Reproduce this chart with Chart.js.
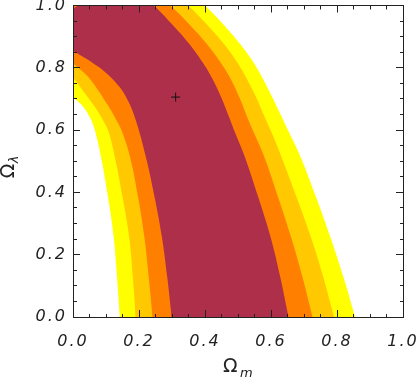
<!DOCTYPE html>
<html>
<head>
<meta charset="utf-8">
<script src="https://cdn.jsdelivr.net/npm/chart.js@4.4.1/dist/chart.umd.min.js"></script>
<style>
  html, body { margin: 0; padding: 0; background: #fff; }
  #wrap { width: 418px; height: 378px; }
</style>
</head>
<body>
<div id="wrap"><canvas id="contours"></canvas></div>
<script>
// contour edges, as [Omega_m, Omega_lambda] pairs (sorted by Omega_m)
// "outer" = upper/right edge of a band, "inner" = lower/left edge
const yellowOuter = [[0, 1.3], [0.2, 1.2], [0.40, 1.0], [0.455, 0.94], [0.506, 0.877], [0.545, 0.82], [0.575, 0.766], [0.605, 0.703], [0.634, 0.639], [0.655, 0.592], [0.69, 0.513], [0.736, 0.386], [0.779, 0.259], [0.818, 0.133], [0.855, 0.0]];
const goldOuter = [[0, 1.25], [0.18, 1.16], [0.349, 1.0], [0.405, 0.94], [0.457, 0.877], [0.496, 0.82], [0.526, 0.766], [0.556, 0.703], [0.582, 0.639], [0.602, 0.592], [0.632, 0.513], [0.677, 0.386], [0.72, 0.259], [0.757, 0.133], [0.791, 0.0]];
const orangeOuter = [[0, 1.2], [0.15, 1.12], [0.294, 1.0], [0.352, 0.94], [0.405, 0.877], [0.445, 0.82], [0.477, 0.766], [0.505, 0.703], [0.529, 0.639], [0.548, 0.592], [0.58, 0.513], [0.621, 0.386], [0.66, 0.259], [0.694, 0.133], [0.726, 0.0]];
const maroonOuter = [[0, 0.99], [0.03, 1.008], [0.08, 1.03], [0.14, 1.04], [0.2, 1.025], [0.243, 1.0], [0.30, 0.94], [0.352, 0.877], [0.391, 0.82], [0.422, 0.766], [0.45, 0.703], [0.474, 0.639], [0.491, 0.592], [0.521, 0.513], [0.561, 0.386], [0.598, 0.259], [0.627, 0.133], [0.653, 0.0]];

const maroonInner = [[0, 0.855], [0.077, 0.803], [0.132, 0.75], [0.16, 0.708], [0.188, 0.639], [0.221, 0.513], [0.247, 0.386], [0.269, 0.259], [0.285, 0.133], [0.299, 0.0]];
const orangeInner = [[0, 0.815], [0.036, 0.782], [0.062, 0.75], [0.105, 0.681], [0.128, 0.639], [0.148, 0.597], [0.173, 0.513], [0.197, 0.386], [0.216, 0.259], [0.229, 0.133], [0.241, 0.0]];
const goldInner = [[0, 0.769], [0.062, 0.681], [0.087, 0.639], [0.107, 0.597], [0.127, 0.513], [0.15, 0.386], [0.17, 0.259], [0.181, 0.133], [0.19, 0.0]];
const yellowInner = [[0, 0.705], [0.026, 0.681], [0.052, 0.639], [0.067, 0.597], [0.085, 0.513], [0.106, 0.386], [0.123, 0.259], [0.133, 0.133], [0.142, 0.0]];

const bestFit = [[0.311, 0.706]];

const tickLabels = ["0.0", "0.2", "0.4", "0.6", "0.8", "1.0"];

const colors = {
  yellow: "#ffff00",
  gold: "#ffc800",
  orange: "#ff7f00",
  maroon: "#ad2f4a",
  white: "#ffffff",
  ink: "#222222"
};

const toPoints = (pairs) => pairs.map(([x, y]) => ({ x, y }));

// each edge is filled down to the bottom of the axis; painted outer to inner
function edge(pairs, color, order) {
  return {
    data: toPoints(pairs),
    backgroundColor: color,
    borderColor: "rgba(0,0,0,0)",
    borderWidth: 0,
    pointRadius: 0,
    fill: "start",
    tension: 0.4,
    order
  };
}

const isMajor = (tick) => !tick || Math.round(tick.value * 20) % 4 === 0;

function tickLabel(value) {
  const k = Math.round(value * 20);
  return k % 4 === 0 ? tickLabels[k / 4] : "";
}

// ticks point into the plot; minor ones are cut short with a dash
function edgeGrid(startsInside) {
  return {
    display: true,
    drawOnChartArea: false,
    drawTicks: true,
    tickLength: -7,
    tickColor: colors.ink,
    tickWidth: 1,
    z: 1,
    tickBorderDash: (ctx) => (isMajor(ctx.tick) ? [] : startsInside ? [4, 3] : [4, 10]),
    tickBorderDashOffset: (ctx) => (isMajor(ctx.tick) || !startsInside ? 0 : 4)
  };
}

// pin the plot box; no extra room for overhanging labels
function pinSize(prop, size) {
  return (scale) => {
    scale[prop] = size;
    scale.paddingLeft = 0;
    scale.paddingRight = 0;
    scale.paddingTop = 0;
    scale.paddingBottom = 0;
  };
}

const border = { display: true, color: colors.ink, width: 1, z: 1 };
const labelFont = { family: "DejaVu Sans", style: "italic", size: 16 };

const spacedLabels = {
  id: "spacedLabels",
  beforeDraw(chart) {
    chart.ctx.letterSpacing = "2px";
  }
};

const axisTitles = {
  id: "axisTitles",
  afterDraw(chart) {
    const { ctx, chartArea } = chart;
    ctx.save();
    ctx.letterSpacing = "0px";
    ctx.fillStyle = colors.ink;
    ctx.textAlign = "left";
    ctx.textBaseline = "alphabetic";

    const cx = (chartArea.left + chartArea.right) / 2;
    ctx.font = "19px 'DejaVu Sans'";
    ctx.fillText("Ω", cx - 15, chartArea.bottom + 55);
    ctx.font = "italic 13px 'DejaVu Sans'";
    ctx.fillText("m", cx + 2, chartArea.bottom + 60);

    const cy = (chartArea.top + chartArea.bottom) / 2;
    ctx.translate(14, cy + 17);
    ctx.rotate(-Math.PI / 2);
    ctx.font = "19px 'DejaVu Sans'";
    ctx.fillText("Ω", 0, 0);
    ctx.font = "italic 13px 'DejaVu Sans'";
    ctx.fillText("λ", 15, 4);
    ctx.restore();
  }
};

new Chart(document.getElementById("contours"), {
  type: "line",
  data: {
    datasets: [
      edge(yellowOuter, colors.yellow, 8),
      edge(goldOuter, colors.gold, 7),
      edge(orangeOuter, colors.orange, 6),
      edge(maroonOuter, colors.maroon, 5),
      edge(maroonInner, colors.orange, 4),
      edge(orangeInner, colors.gold, 3),
      edge(goldInner, colors.yellow, 2),
      edge(yellowInner, colors.white, 1),
      {
        data: toPoints(bestFit),
        showLine: false,
        fill: false,
        pointStyle: "cross",
        pointRadius: 4.5,
        borderColor: "#111",
        borderWidth: 1,
        order: 0
      }
    ]
  },
  options: {
    responsive: true,
    maintainAspectRatio: false,
    animation: false,
    layout: { padding: 0 },
    plugins: {
      legend: { display: false },
      tooltip: { enabled: false }
    },
    scales: {
      x: {
        type: "linear",
        position: "bottom",
        min: 0,
        max: 1,
        ticks: { stepSize: 0.05, autoSkip: false, maxRotation: 0, padding: 22, color: colors.ink, font: labelFont, callback: tickLabel, z: 1 },
        grid: edgeGrid(false),
        border,
        afterFit: pinSize("height", 61)
      },
      x2: {
        type: "linear",
        position: "top",
        min: 0,
        max: 1,
        ticks: { stepSize: 0.05, autoSkip: false, display: false },
        grid: edgeGrid(true),
        border,
        afterFit: pinSize("height", 1)
      },
      y: {
        type: "linear",
        position: "left",
        min: 0,
        max: 1,
        ticks: { stepSize: 0.05, autoSkip: false, padding: 13, color: colors.ink, font: labelFont, callback: tickLabel, z: 1 },
        grid: edgeGrid(true),
        border,
        afterFit: pinSize("width", 73)
      },
      y2: {
        type: "linear",
        position: "right",
        min: 0,
        max: 1,
        ticks: { stepSize: 0.05, autoSkip: false, display: false },
        grid: edgeGrid(false),
        border,
        afterFit: pinSize("width", 15)
      }
    }
  },
  plugins: [spacedLabels, axisTitles]
});
</script>
</body>
</html>
